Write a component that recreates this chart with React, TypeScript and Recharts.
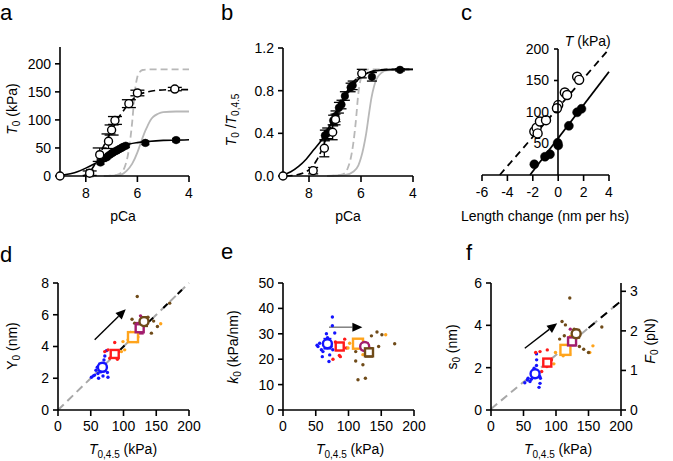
import React from 'react';
import { ComposedChart, Line, Scatter, XAxis, YAxis, ErrorBar, ReferenceLine } from 'recharts';

const FONT = '"Liberation Sans", Arial, Helvetica, sans-serif';
const TICK = { fontSize: 14, fill: '#000', fontFamily: FONT };
const AX = { stroke: '#000', strokeWidth: 1.6 };

type P = { x: number; y: number; ex?: number; ey?: number };
const pts = (a: number[][]): P[] => a.map(([x, y, ey = 0, ex = 0]) => ({ x, y, ey, ex }));

// ---------- Panel a: T0 (kPa) vs pCa ----------
const aOpen = pts([[9, 0], [7.85, 5, 4, 0.12], [7.46, 38, 12], [7.12, 62, 13, 0.04], [7.0, 82, 9], [6.87, 99, 7], [6.33, 129, 7, 0.06], [6.0, 148, 5, 0.08], [4.55, 155, 3]]);
const aFilled = pts([[7.43, 24, 3], [7.2, 33, 3], [7.1, 37, 3], [7.0, 40, 3], [6.95, 42, 3], [6.85, 44, 3], [6.78, 46, 3], [6.7, 48, 3], [6.62, 50, 3], [6.55, 52, 3], [6.45, 54, 3], [5.69, 59, 3], [4.5, 64, 3]]);
const aFitFilled = pts([[9, 1], [8.6, 4], [8.3, 8], [8.0, 14], [7.7, 21], [7.5, 26], [7.3, 33], [7.1, 39], [6.9, 45], [6.7, 50], [6.5, 54], [6.3, 57], [6.0, 59.5], [5.6, 61.5], [5.0, 63.5], [4.5, 64], [4.0, 64.5]]);
const aFitOpen = pts([[8.1, 0], [7.9, 5], [7.7, 17], [7.5, 35], [7.3, 54], [7.1, 72], [6.9, 90], [6.7, 106], [6.5, 119], [6.3, 131], [6.1, 140], [5.9, 146], [5.6, 150], [5.2, 153], [4.5, 154], [4.0, 154]]);
const aGrayDash = pts([[7.3, 0], [6.8, 2], [6.6, 7], [6.5, 15], [6.4, 30], [6.3, 57], [6.2, 97], [6.1, 150], [6.0, 177], [5.9, 186], [5.8, 189], [5.5, 190], [4.0, 190]]);
const aGraySolid = pts([[7.3, 0], [6.8, 1], [6.6, 3], [6.4, 10], [6.2, 22], [6.0, 42], [5.9, 55], [5.8, 68], [5.7, 80], [5.6, 90], [5.5, 99], [5.4, 105], [5.2, 111], [5.0, 114], [4.5, 115], [4.0, 115]]);
const aXTicks = [4, 6, 8];
const aYTicks = [0, 50, 100, 150, 200];

// ---------- Panel b: normalised ----------
const bOpen = pts([[9, 0], [7.84, 0.05, 0.03], [7.41, 0.26, 0.08], [7.09, 0.41, 0.07], [6.98, 0.53, 0.05], [5.97, 0.96, 0.04]]);
const bFilled = pts([[7.39, 0.38, 0.05], [7.3, 0.4, 0.05], [7.07, 0.52, 0.05], [6.98, 0.56, 0.05], [6.85, 0.64, 0.05], [6.75, 0.67, 0.04], [6.62, 0.75, 0.04], [6.4, 0.83, 0.04], [6.32, 0.85, 0.04], [5.58, 0.93, 0.04], [4.5, 0.995, 0.01]]);
const bFitSolid = pts([[9, 0.01], [8.7, 0.04], [8.4, 0.09], [8.1, 0.16], [7.8, 0.25], [7.6, 0.31], [7.4, 0.38], [7.2, 0.47], [7.0, 0.56], [6.8, 0.65], [6.6, 0.74], [6.4, 0.82], [6.2, 0.88], [6.0, 0.93], [5.7, 0.97], [5.3, 0.99], [4.5, 1.0], [4.0, 1.0]]);
const bFitDash = pts([[8.9, 0], [8.5, 0.01], [8.2, 0.03], [7.9, 0.08], [7.7, 0.15], [7.5, 0.25], [7.3, 0.38], [7.1, 0.5], [6.9, 0.62], [6.7, 0.72], [6.5, 0.81], [6.3, 0.88], [6.0, 0.94], [5.6, 0.98], [5.0, 1.0], [4.0, 1.0]]);
const bGrayDash = pts([[7.3, 0], [6.8, 0.01], [6.6, 0.03], [6.5, 0.08], [6.4, 0.16], [6.3, 0.3], [6.2, 0.51], [6.1, 0.78], [6.0, 0.92], [5.9, 0.98], [5.7, 1.0], [4.0, 1.0]]);
const bGraySolid = pts([[7.3, 0], [6.6, 0.01], [6.3, 0.04], [6.1, 0.1], [6.0, 0.17], [5.9, 0.27], [5.8, 0.4], [5.7, 0.57], [5.6, 0.73], [5.5, 0.84], [5.4, 0.91], [5.2, 0.97], [5.0, 0.99], [4.0, 1.0]]);
const bYTicks = [0, 0.4, 0.8, 1.2];

// ---------- Panel c: T vs length change ----------
const cOpen = pts([[-1.88, 69], [-1.7, 75], [-1.62, 66], [-1.44, 85], [-0.96, 87], [0, 111], [-0.1, 106], [0.52, 131], [0.7, 127], [1.49, 156], [1.65, 151]]);
const cFilled = pts([[-1.88, 17], [-1.04, 29], [-0.65, 33], [0, 47], [-0.04, 51], [0.84, 78], [1.49, 99.5], [1.83, 105]]);
const cLineSolid = pts([[-2.22, 0], [4, 164]]);
const cLineDash = pts([[-4.6, 0], [3.92, 198]]);
const cXTicks = [-6, -4, -2, 0, 2, 4];
const cYTicks = [50, 100, 150, 200];

// ---------- Panels d, e, f ----------
const BLUE = '#1414ff', RED = '#ff1a1a', ORANGE = '#ffa41c', PURPLE = '#a21d6e', BROWN = '#6f4b19';
const dxTicks = [0, 50, 100, 150, 200];

const dBlue = pts([[51, 2.06], [56, 2.2], [61, 2.3], [65, 2.4], [75.4, 2.36], [76.3, 2.06], [60, 2.69], [72.3, 2.84], [68.7, 2.14], [64, 2.6], [58, 2.5], [73.9, 3.74], [71.5, 3.4], [70.2, 3.15], [54, 2.15], [66, 2.9], [70, 2.45], [62, 2.0]]);
const dRed = pts([[86.6, 4.25], [76.4, 3.79], [92.7, 3.68], [79, 3.26], [90.7, 3.2], [71.3, 3.68], [88, 3.5], [82, 3.45]]);
const dOrange = pts([[156.8, 5.43], [99.2, 4.31], [101.8, 3.79], [96.8, 3.68], [119.7, 4.31], [107, 4.42], [122, 4.6], [110, 4.7]]);
const dPurple = pts([[126, 5.93], [120, 5.1], [128, 5.0]]);
const dBrown = pts([[121, 7.15], [170.5, 6.73], [113, 5.72], [117, 5.47], [137.4, 5.85], [142.6, 4.84], [151.8, 5.26], [129, 4.98], [111, 4.88], [146, 5.6]]);
const dMeans = {
  blue: pts([[67.8, 2.69, 0.25, 3]]), red: pts([[86.6, 3.53, 0.2, 3]]), orange: pts([[114.5, 4.59, 0.2, 5]]),
  purple: pts([[124.7, 5.15, 0.35, 2]]), brown: pts([[131.3, 5.57, 0.3, 4]]),
};
const dGrayLine = pts([[0, 0], [200, 8]]);
const dBlackLine = pts([[95, 3.8], [200, 8]]);
const dArrow = [{ x: 56, y: 4.42 }, { x: 103.4, y: 6.35 }];

const eBlue = pts([[75.4, 36.6], [75.4, 33.2], [79, 30.3], [66.3, 30], [53.4, 25], [58.6, 23.7], [61, 23], [71.3, 21.7], [70.2, 19.1], [63.7, 27], [56, 26.3], [73.5, 25], [60, 21], [76, 23.7], [52, 25.5], [68, 28.5]]);
const eRed = pts([[94.2, 27.9], [96.6, 24.4], [86, 21.5], [76.3, 20], [87.6, 21], [80, 26.8], [91, 25.2]]);
const eOrange = pts([[101.8, 26.3], [99.2, 24.4], [122, 21.8], [156.8, 29.6], [112, 26.8], [118, 24.5], [108, 25.5]]);
const ePurple = pts([[126, 26], [122, 24]]);
const eBrown = pts([[135, 29.2], [143.5, 30.7], [151, 29.6], [170.5, 26.1], [146, 25], [111, 23], [111, 19.3], [122, 17.8], [114.5, 11.9], [125.8, 12.5]]);
const eMeans = {
  blue: pts([[67.8, 26.1, 2, 3]]), red: pts([[86.6, 25, 1.5, 3]]), orange: pts([[114.5, 26.1, 1.2, 5]]),
  purple: pts([[124.7, 25, 1.5, 2]]), brown: pts([[131.3, 22.7, 1.8, 3]]),
};
const eArrow = [{ x: 70.2, y: 32.6 }, { x: 121.2, y: 32.6 }];
const eYTicks = [0, 10, 20, 30, 40, 50];

const fBlue = pts([[52, 1.29], [56, 1.42], [66.3, 1.97], [70.2, 2.37], [70, 2.65], [73.9, 1.07], [75.4, 1.26], [62, 1.45], [75, 1.58], [76, 1.5], [57, 1.5], [64, 1.6], [70, 2.1], [60, 1.35]]);
const fRed = pts([[68.7, 2.72], [75.4, 2.76], [86.6, 2.84], [78, 1.82], [93, 2.37], [86, 2.05]]);
const fOrange = pts([[99.2, 2.72], [96.7, 2.18], [111, 2.56], [121, 2.65], [156.8, 3.03], [152, 2.72], [122, 3.48]]);
const fPurple = pts([[122, 3.82], [126, 3.1]]);
const fBrown = pts([[121.2, 5.29], [109.3, 4.18], [114.5, 4.02], [105.6, 3.35], [112.8, 3.51], [142.6, 2.87], [150, 2.72], [136, 3.0], [170.5, 3.92], [128, 3.82]]);
const fMeans = {
  blue: pts([[67.8, 1.71, 0.15, 3]]), red: pts([[86.6, 2.24, 0.12, 3]]), orange: pts([[114.5, 2.84, 0.12, 5]]),
  purple: pts([[124.7, 3.24, 0.2, 2]]), brown: pts([[131, 3.6, 0.2, 3]]),
};
const fGrayLine = pts([[0, 0.05], [200, 5.15]]);
const fBlackLine = pts([[150, 3.87], [200, 5.15]]);
const fArrow = [{ x: 52, y: 2.92 }, { x: 101.8, y: 4.1 }];
const fYTicks = [0, 2, 4, 6];
const fRTicks = [0, 1, 2, 3];
const fRDomain = [0, 3.21];

// ---------- helpers ----------
type Fr = { left: number; top: number; width: number; height: number; pl: number; pr: number; pt: number; pb: number };
const fr = (x0: number, y0: number, x1: number, y1: number, pl: number, pr: number, pt: number, pb: number): Fr => ({
  left: x0 - pl, top: y0 - pt, width: x1 - x0 + pl + pr, height: y1 - y0 + pt + pb, pl, pr, pt, pb,
});
const wrap = (F: Fr): React.CSSProperties => ({ position: 'absolute', left: F.left, top: F.top, width: F.width, height: F.height });

const openC = (r: number) => (p: any) => <circle cx={p.cx} cy={p.cy} r={r} fill="#fff" stroke="#000" strokeWidth={1.4} />;
const fillC = (r: number) => (p: any) => <circle cx={p.cx} cy={p.cy} r={r} fill="#000" stroke="#000" strokeWidth={0.5} />;
const dot = (c: string) => (p: any) => <circle cx={p.cx} cy={p.cy} r={1.7} fill={c} />;
const meanC = (c: string, r: number) => (p: any) => <circle cx={p.cx} cy={p.cy} r={r} fill="#fff" stroke={c} strokeWidth={2.4} />;
const meanS = (c: string, s: number) => (p: any) => <rect x={p.cx - s / 2} y={p.cy - s / 2} width={s} height={s} fill="#fff" stroke={c} strokeWidth={2.4} />;

const arrowShape = (color: string, head: number) => (p: any) => {
  const { x1, y1, x2, y2 } = p;
  const ang = Math.atan2(y2 - y1, x2 - x1);
  const bx = x2 - head * Math.cos(ang), by = y2 - head * Math.sin(ang);
  const w = head * 0.45;
  const px = -Math.sin(ang) * w, py = Math.cos(ang) * w;
  return (
    <g>
      <line x1={x1} y1={y1} x2={bx} y2={by} stroke={color} strokeWidth={1.4} />
      <polygon points={`${x2},${y2} ${bx + px},${by + py} ${bx - px},${by - py}`} fill="#000" />
    </g>
  );
};

const Letter = ({ F, x, y, t }: { F: Fr; x: number; y: number; t: string }) => (
  <text x={x - F.left} y={y - F.top} fontSize={22} fontFamily={FONT} fill="#000">{t}</text>
);

const dotsAndMeans = (groups: { d: P[]; c: string }[], means: any, shapes: any) => {
  const out: any[] = [];
  groups.forEach((g, i) => out.push(<Scatter key={'g' + i} data={g.d} shape={dot(g.c)} isAnimationActive={false} />));
  (['blue', 'red', 'orange', 'purple', 'brown'] as const).forEach((k) => {
    const col = { blue: BLUE, red: RED, orange: ORANGE, purple: PURPLE, brown: BROWN }[k];
    out.push(
      <Scatter key={'m' + k} data={means[k]} shape={shapes[k]} isAnimationActive={false}>
        <ErrorBar dataKey="ex" direction="x" width={4} stroke={col} strokeWidth={1.6} />
        <ErrorBar dataKey="ey" direction="y" width={4} stroke={col} strokeWidth={1.6} />
      </Scatter>
    );
  });
  return out;
};

// ---------- Panels ----------
const FA = fr(60, 47, 189, 176, 60, 20, 47, 55);
function PanelA() {
  const F = FA;
  return (
    <div style={wrap(F)}>
      <ComposedChart width={F.width} height={F.height} margin={{ top: F.pt, right: F.pr, left: 0, bottom: 0 }}>
        <XAxis type="number" dataKey="x" domain={[4, 9]} reversed ticks={aXTicks} height={F.pb} tick={TICK} tickSize={6} tickMargin={6} axisLine={AX} tickLine={AX} />
        <YAxis type="number" dataKey="y" domain={[0, 230]} ticks={aYTicks} width={F.pl} tick={TICK} tickSize={5} tickMargin={4} axisLine={AX} tickLine={AX} />
        <Line data={aGraySolid} dataKey="y" type="monotone" stroke="#b8b8b8" strokeWidth={1.8} dot={false} isAnimationActive={false} />
        <Line data={aGrayDash} dataKey="y" type="monotone" stroke="#b8b8b8" strokeWidth={1.8} strokeDasharray="7 4" dot={false} isAnimationActive={false} />
        <Line data={aFitOpen} dataKey="y" type="monotone" stroke="#000" strokeWidth={1.6} strokeDasharray="7 4" dot={false} isAnimationActive={false} />
        <Line data={aFitFilled} dataKey="y" type="monotone" stroke="#000" strokeWidth={1.6} dot={false} isAnimationActive={false} />
        <Scatter data={aFilled} shape={fillC(3.8)} isAnimationActive={false}>
          <ErrorBar dataKey="ey" direction="y" width={4} stroke="#000" strokeWidth={1.3} />
        </Scatter>
        <Scatter data={aOpen} shape={openC(4)} isAnimationActive={false}>
          <ErrorBar dataKey="ey" direction="y" width={7} stroke="#000" strokeWidth={1.3} />
          <ErrorBar dataKey="ex" direction="x" width={4} stroke="#000" strokeWidth={1.3} />
        </Scatter>
        <Letter F={F} x={0} y={20} t="a" />
        <text transform={`translate(${17 - F.left},${109 - F.top}) rotate(-90)`} textAnchor="middle" fontSize={14} fontFamily={FONT}>
          <tspan fontStyle="italic">T</tspan><tspan fontSize={10} dy={3}>0</tspan><tspan dy={-3}> (kPa)</tspan>
        </text>
        <text x={123 - F.left} y={221 - F.top} textAnchor="middle" fontSize={14} fontFamily={FONT}>pCa</text>
      </ComposedChart>
    </div>
  );
}

const FB = fr(283, 48, 413, 176, 66, 20, 48, 55);
function PanelB() {
  const F = FB;
  return (
    <div style={wrap(F)}>
      <ComposedChart width={F.width} height={F.height} margin={{ top: F.pt, right: F.pr, left: 0, bottom: 0 }}>
        <XAxis type="number" dataKey="x" domain={[4, 9]} reversed ticks={aXTicks} height={F.pb} tick={TICK} tickSize={6} tickMargin={6} axisLine={AX} tickLine={AX} />
        <YAxis type="number" dataKey="y" domain={[0, 1.2]} ticks={bYTicks} tickFormatter={(v: number) => v.toFixed(1)} width={F.pl} tick={TICK} tickSize={5} tickMargin={4} axisLine={AX} tickLine={AX} />
        <Line data={bGraySolid} dataKey="y" type="monotone" stroke="#b8b8b8" strokeWidth={1.8} dot={false} isAnimationActive={false} />
        <Line data={bGrayDash} dataKey="y" type="monotone" stroke="#b8b8b8" strokeWidth={1.8} strokeDasharray="7 4" dot={false} isAnimationActive={false} />
        <Line data={bFitDash} dataKey="y" type="monotone" stroke="#000" strokeWidth={1.6} strokeDasharray="7 4" dot={false} isAnimationActive={false} />
        <Line data={bFitSolid} dataKey="y" type="monotone" stroke="#000" strokeWidth={1.6} dot={false} isAnimationActive={false} />
        <Scatter data={bFilled} shape={fillC(3.8)} isAnimationActive={false}>
          <ErrorBar dataKey="ey" direction="y" width={5} stroke="#000" strokeWidth={1.3} />
        </Scatter>
        <Scatter data={bOpen} shape={openC(4)} isAnimationActive={false}>
          <ErrorBar dataKey="ey" direction="y" width={5} stroke="#000" strokeWidth={1.3} />
        </Scatter>
        <Letter F={F} x={221} y={20} t="b" />
        <text transform={`translate(${236 - F.left},${120 - F.top}) rotate(-90)`} textAnchor="middle" fontSize={14} fontFamily={FONT}>
          <tspan fontStyle="italic">T</tspan><tspan fontSize={10} dy={3}>0</tspan><tspan dy={-3}> /</tspan>
          <tspan fontStyle="italic">T</tspan><tspan fontSize={10} dy={3}>0,4.5</tspan>
        </text>
        <text x={348 - F.left} y={221 - F.top} textAnchor="middle" fontSize={14} fontFamily={FONT}>pCa</text>
      </ComposedChart>
    </div>
  );
}

const FC = fr(482, 49, 609, 175, 22, 30, 49, 55);
const FC2 = fr(558.2, 49, 609, 175, 60, 62, 40, 55);
function PanelC() {
  const F = FC;
  const G = FC2;
  return (
    <>
      <div style={wrap(F)}>
        <ComposedChart width={F.width} height={F.height} margin={{ top: F.pt, right: F.pr, left: F.pl, bottom: 0 }}>
          <XAxis type="number" dataKey="x" domain={[-6, 4]} ticks={cXTicks} height={F.pb} tick={TICK} tickSize={6} tickMargin={6} axisLine={AX} tickLine={AX} />
          <YAxis type="number" dataKey="y" domain={[0, 200]} hide />
          <Line data={cLineDash} dataKey="y" stroke="#000" strokeWidth={1.8} strokeDasharray="7 5" dot={false} isAnimationActive={false} />
          <Line data={cLineSolid} dataKey="y" stroke="#000" strokeWidth={1.8} dot={false} isAnimationActive={false} />
          <Scatter data={cOpen} shape={openC(4.5)} isAnimationActive={false} />
          <Scatter data={cFilled} shape={fillC(4.5)} isAnimationActive={false} />
          <Letter F={F} x={461} y={20} t="c" />
          <text x={545 - F.left} y={221 - F.top} textAnchor="middle" fontSize={14} fontFamily={FONT}>Length change (nm per hs)</text>
        </ComposedChart>
      </div>
      <div style={wrap(G)}>
        <ComposedChart width={G.width} height={G.height} data={cFilled} margin={{ top: G.pt, right: G.pr, left: 0, bottom: G.pb }}>
          <XAxis type="number" dataKey="x" domain={[0, 4]} hide />
          <YAxis type="number" dataKey="y" domain={[0, 200]} ticks={cYTicks} width={G.pl} tick={TICK} tickSize={4} tickMargin={5} axisLine={AX} tickLine={AX} />
          <text x={565 - G.left} y={46 - G.top} fontSize={14} fontFamily={FONT}>
            <tspan fontStyle="italic">T</tspan><tspan> (kPa)</tspan>
          </text>
        </ComposedChart>
      </div>
    </>
  );
}

const sub45 = (
  <>
    <tspan fontStyle="italic">T</tspan><tspan fontSize={10} dy={4}>0,4.5</tspan><tspan dy={-4}> (kPa)</tspan>
  </>
);

const FD = fr(58, 283, 189, 410, 58, 20, 45, 50);
function PanelD() {
  const F = FD;
  return (
    <div style={wrap(F)}>
      <ComposedChart width={F.width} height={F.height} margin={{ top: F.pt, right: F.pr, left: 0, bottom: 0 }}>
        <XAxis type="number" dataKey="x" domain={[0, 200]} ticks={dxTicks} height={F.pb} tick={TICK} tickSize={6} tickMargin={5} axisLine={AX} tickLine={AX} />
        <YAxis type="number" dataKey="y" domain={[0, 8]} ticks={[0, 2, 4, 6, 8]} width={F.pl} tick={TICK} tickSize={5} tickMargin={4} axisLine={AX} tickLine={AX} />
        <Line data={dGrayLine} dataKey="y" stroke="#a8a8a8" strokeWidth={2} strokeDasharray="8 5" dot={false} isAnimationActive={false} />
        <Line data={dBlackLine} dataKey="y" stroke="#000" strokeWidth={2} strokeDasharray="6 14" dot={false} isAnimationActive={false} />
        <ReferenceLine segment={dArrow} shape={arrowShape('#000', 10)} ifOverflow="visible" />
        {dotsAndMeans(
          [{ d: dBlue, c: BLUE }, { d: dRed, c: RED }, { d: dOrange, c: ORANGE }, { d: dPurple, c: PURPLE }, { d: dBrown, c: BROWN }],
          dMeans,
          { blue: meanC(BLUE, 4.5), red: meanS(RED, 8), orange: meanS(ORANGE, 10), purple: meanS(PURPLE, 8), brown: meanC(BROWN, 4.5) }
        )}
        <Letter F={F} x={0} y={262} t="d" />
        <text transform={`translate(${17 - F.left},${346 - F.top}) rotate(-90)`} textAnchor="middle" fontSize={14} fontFamily={FONT}>
          <tspan>Y</tspan><tspan fontSize={10} dy={3}>0</tspan><tspan dy={-3}> (nm)</tspan>
        </text>
        <text x={123 - F.left} y={454 - F.top} textAnchor="middle" fontSize={14} fontFamily={FONT}>{sub45}</text>
      </ComposedChart>
    </div>
  );
}

const FE = fr(283, 283, 414, 410, 66, 20, 45, 50);
function PanelE() {
  const F = FE;
  return (
    <div style={wrap(F)}>
      <ComposedChart width={F.width} height={F.height} margin={{ top: F.pt, right: F.pr, left: 0, bottom: 0 }}>
        <XAxis type="number" dataKey="x" domain={[0, 200]} ticks={dxTicks} height={F.pb} tick={TICK} tickSize={6} tickMargin={5} axisLine={AX} tickLine={AX} />
        <YAxis type="number" dataKey="y" domain={[0, 50]} ticks={eYTicks} width={F.pl} tick={TICK} tickSize={5} tickMargin={4} axisLine={AX} tickLine={AX} />
        <ReferenceLine segment={eArrow} shape={arrowShape('#777', 10)} ifOverflow="visible" />
        {dotsAndMeans(
          [{ d: eBlue, c: BLUE }, { d: eRed, c: RED }, { d: eOrange, c: ORANGE }, { d: ePurple, c: PURPLE }, { d: eBrown, c: BROWN }],
          eMeans,
          { blue: meanC(BLUE, 4.5), red: meanS(RED, 8), orange: meanS(ORANGE, 10), purple: meanC(PURPLE, 4.5), brown: meanS(BROWN, 8) }
        )}
        <Letter F={F} x={221} y={259} t="e" />
        <text transform={`translate(${238 - F.left},${347 - F.top}) rotate(-90)`} textAnchor="middle" fontSize={14} fontFamily={FONT}>
          <tspan fontStyle="italic">k</tspan><tspan fontSize={10} dy={3}>0</tspan><tspan dy={-3}> (kPa/nm)</tspan>
        </text>
        <text x={350 - F.left} y={454 - F.top} textAnchor="middle" fontSize={14} fontFamily={FONT}>{sub45}</text>
      </ComposedChart>
    </div>
  );
}

const FF = fr(491, 283, 621, 410, 50, 52, 45, 50);
const FF2 = fr(491, 283, 621, 410, 10, 52, 10, 50);
function PanelF() {
  const F = FF;
  const G = FF2;
  return (
    <>
      <div style={wrap(F)}>
        <ComposedChart width={F.width} height={F.height} margin={{ top: F.pt, right: F.pr, left: 0, bottom: 0 }}>
          <XAxis type="number" dataKey="x" domain={[0, 200]} ticks={dxTicks} height={F.pb} tick={TICK} tickSize={6} tickMargin={5} axisLine={AX} tickLine={AX} />
          <YAxis type="number" dataKey="y" domain={[0, 6]} ticks={fYTicks} width={F.pl} tick={TICK} tickSize={5} tickMargin={4} axisLine={AX} tickLine={AX} />
          <Line data={fGrayLine} dataKey="y" stroke="#a8a8a8" strokeWidth={2} strokeDasharray="8 5" dot={false} isAnimationActive={false} />
          <Line data={fBlackLine} dataKey="y" stroke="#000" strokeWidth={2} strokeDasharray="8 8" dot={false} isAnimationActive={false} />
          <ReferenceLine segment={fArrow} shape={arrowShape('#000', 10)} ifOverflow="visible" />
          {dotsAndMeans(
            [{ d: fBlue, c: BLUE }, { d: fRed, c: RED }, { d: fOrange, c: ORANGE }, { d: fPurple, c: PURPLE }, { d: fBrown, c: BROWN }],
            fMeans,
            { blue: meanC(BLUE, 4.5), red: meanS(RED, 8), orange: meanS(ORANGE, 10), purple: meanS(PURPLE, 8), brown: meanC(BROWN, 4.5) }
          )}
          <Letter F={F} x={466} y={260} t="f" />
          <text transform={`translate(${457 - F.left},${347 - F.top}) rotate(-90)`} textAnchor="middle" fontSize={14} fontFamily={FONT}>
            <tspan>s</tspan><tspan fontSize={10} dy={3}>0</tspan><tspan dy={-3}> (nm)</tspan>
          </text>
          <text transform={`translate(${655 - F.left},${341 - F.top}) rotate(-90)`} textAnchor="middle" fontSize={14} fontFamily={FONT}>
            <tspan fontStyle="italic">F</tspan><tspan fontSize={10} dy={3}>0</tspan><tspan dy={-3}> (pN)</tspan>
          </text>
          <text x={558 - F.left} y={454 - F.top} textAnchor="middle" fontSize={14} fontFamily={FONT}>{sub45}</text>
        </ComposedChart>
      </div>
      <div style={wrap(G)}>
        <ComposedChart width={G.width} height={G.height} data={fBlue} margin={{ top: G.pt, right: 0, left: G.pl, bottom: G.pb }}>
          <XAxis type="number" dataKey="x" domain={[0, 200]} hide />
          <YAxis orientation="right" type="number" dataKey="y" domain={fRDomain} ticks={fRTicks} allowDataOverflow width={G.pr} tick={TICK} tickSize={5} tickMargin={4} axisLine={AX} tickLine={AX} />
        </ComposedChart>
      </div>
    </>
  );
}

export default function App() {
  return (
    <div style={{ position: 'absolute', left: 0, top: 0, width: 673, height: 461, background: '#fff', fontFamily: FONT, overflow: 'hidden' }}>
      <PanelA />
      <PanelB />
      <PanelC />
      <PanelD />
      <PanelE />
      <PanelF />
    </div>
  );
}
